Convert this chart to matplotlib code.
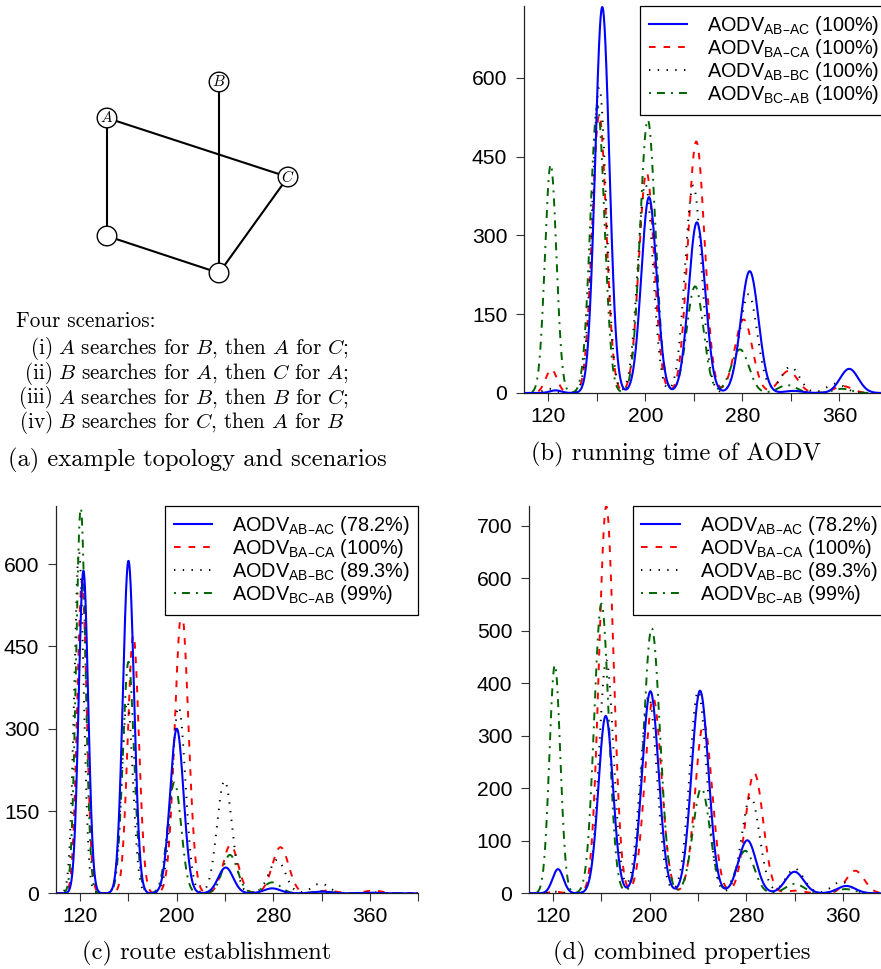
import numpy as np
import matplotlib
matplotlib.use('Agg')
import matplotlib.pyplot as plt
from matplotlib.patches import Circle

W, H = 881, 969

# ---- (a) topology ----
node_x = [107, 219, 288, 107, 219]
node_y = [118, 82, 177, 236, 273]
node_lbl = ['A', 'B', 'C', '', '']
edges = [(0, 3), (0, 2), (1, 4), (3, 4), (4, 2)]
scen_tags = ['(i)', '(ii)', '(iii)', '(iv)']
scen_text = [r'$A$ searches for $B$, then $A$ for $C$;',
             r'$B$ searches for $A$, then $C$ for $A$;',
             r'$A$ searches for $B$, then $B$ for $C$;',
             r'$B$ searches for $C$, then $A$ for $B$']

# ---- peak positions / heights ----
# order of series: AB-AC, BA-CA, AB-BC, BC-AB
b_x = [[126, 164.5, 203, 242.5, 286, 322, 368],
       [122.5, 162, 201, 242, 281, 318, 363],
       [121, 162, 200, 239.5, 285, 319.5, 357],
       [122, 160.5, 202, 241, 278, 317, 362]]
b_h = [[5, 735, 373, 325, 232, 4, 46],
       [45, 530, 420, 479, 140, 42, 13],
       [8, 582, 398, 395, 188, 50, 18],
       [435, 547, 520, 203, 83, 15, 8]]
b_w = [4.7, 5.8, 6.3, 6.8, 7.3, 7.5, 7.5]

c_x = [[122.7, 160, 200, 240.5, 279, 320, 360],
       [121.5, 164, 204, 244.5, 285.8, 325, 362.6],
       [119, 159, 201.5, 239.5, 283, 319, 360],
       [120.5, 160, 198, 244, 279, 320, 360]]
c_h = [[588, 606, 300, 47, 9, 3, 1],
       [570, 470, 513, 88, 84, 5, 5],
       [623, 350, 340, 205, 61, 18, 2],
       [702, 422, 202, 70, 20, 4, 1]]
c_w = [3.9, 4.6, 5.6, 6.2, 6.8, 7.0, 7.0]

d_x = [[124, 163.5, 200.5, 241.6, 280.7, 319.8, 362.7],
       [122, 164, 202.8, 244.6, 286.5, 320, 370],
       [122, 164, 199, 240, 283.5, 320, 358.5],
       [121.4, 160, 201.6, 242.7, 279, 320, 362]]
d_h = [[46, 338, 385, 386, 101, 41, 14],
       [3, 738, 372, 324, 229, 5, 43],
       [3, 444, 375, 385, 184, 47, 22],
       [435, 552, 505, 200, 81, 18, 8]]
d_w = [4.5, 6.0, 6.8, 7.0, 7.3, 7.5, 7.5]

ylim_top = [737, 706, 738]
yticks_bc = [0, 150, 300, 450, 600]
yticks_d = [0, 100, 200, 300, 400, 500, 600, 700]
xticks = [120, 160, 200, 240, 280, 320, 360, 400]
xlabels = ['120', '', '200', '', '280', '', '360', '']

subs = ['AB\u2013AC', 'BA\u2013CA', 'AB\u2013BC', 'BC\u2013AB']
pct_b = ['100%', '100%', '100%', '100%']
pct_cd = ['78.2%', '100%', '89.3%', '99%']
captions = ['(b) running time of AODV', '(c) route establishment',
            '(d) combined properties']

plt.rcParams['font.family'] = ['Liberation Sans', 'DejaVu Sans']

styles = [dict(color='#0000ff', ls='-', lw=1.5, zorder=4),
          dict(color='#ff0000', dashes=(3.4, 4.1), lw=1.4, zorder=3),
          dict(color='black', dashes=(0.7, 3.8), lw=1.4, zorder=3),
          dict(color='#006400', dashes=(1.0, 3.1, 4.1, 3.1), lw=1.4, zorder=3)]

fig = plt.figure(figsize=(W / 100, H / 100), dpi=100)


def px_axes(l, t, r, b):
    return fig.add_axes([l / W, 1 - b / H, (r - l) / W, (b - t) / H])


def curve(xs, cs, hs, ws):
    y = np.zeros_like(xs)
    for c, h, w in zip(cs, hs, ws):
        y += h * np.exp(-0.5 * ((xs - c) / w) ** 2)
    return y


cap_kw = dict(fontfamily='cmr10', math_fontfamily='cm')

# ---- panel (a) ----
axa = px_axes(0, 0, 440, 480)
axa.set_xlim(0, 440)
axa.set_ylim(480, 0)
axa.axis('off')
for i, j in edges:
    axa.plot([node_x[i], node_x[j]], [node_y[i], node_y[j]], color='black',
             lw=1.5, zorder=1, solid_capstyle='butt')
for x, y, s in zip(node_x, node_y, node_lbl):
    axa.add_patch(Circle((x, y), 9.8, facecolor='white', edgecolor='black',
                         lw=1.0, zorder=2))
    if s:
        axa.text(x, y, '$' + s + '$', ha='center', va='center', fontsize=11,
                 math_fontfamily='cm', zorder=3)
axa.text(16, 321, 'Four scenarios:', ha='left', va='center', fontsize=15.2, **cap_kw)
for k, (tag, txt) in enumerate(zip(scen_tags, scen_text)):
    yy = 348.5 + k * 24.7
    axa.text(53, yy, tag, ha='right', va='center', fontsize=15.2, **cap_kw)
    axa.text(58, yy, txt, ha='left', va='center', fontsize=15.2, **cap_kw)
axa.text(8, 460, '(a) example topology and scenarios', ha='left', va='center',
         fontsize=17.7, **cap_kw)

# ---- curve panels ----
xs = np.linspace(100, 400, 1501)
# (axes box in px, peaks..., legend right edge in axes fraction, caption centre)
panels = [((524, 6, 888, 393), b_x, b_h, b_w, yticks_bc, pct_b, 1.0, (676, 454)),
          ((56, 506, 418.4, 893.3), c_x, c_h, c_w, yticks_bc, pct_cd, 1.0, (207, 953)),
          ((529, 506, 891.4, 893.3), d_x, d_h, d_w, yticks_d, pct_cd, 0.985, (682, 953))]

for n, (box, px, ph, pw, yt, pct, lx, cap) in enumerate(panels):
    ax = px_axes(*box)
    for k in range(4):
        lab = 'AODV$_{\\mathregular{' + subs[k] + '}}$ (' + pct[k] + ')'
        ax.plot(xs, curve(xs, px[k], ph[k], pw), label=lab, **styles[k])
    ax.set_xlim(100, 400)
    ax.set_ylim(0, ylim_top[n])
    ax.set_xticks(xticks)
    ax.set_xticklabels(xlabels)
    ax.set_yticks(yt)
    ax.set_yticklabels([str(v) for v in yt])
    for s in ['top', 'right']:
        ax.spines[s].set_visible(False)
    for s in ['left', 'bottom']:
        ax.spines[s].set_linewidth(0.9)
        ax.spines[s].set_color('#222222')
    ax.tick_params(axis='both', labelsize=15.2, length=6, width=0.8,
                   color='#333333')
    ax.tick_params(axis='x', pad=4.0)
    ax.tick_params(axis='y', pad=6.0)
    leg = ax.legend(loc='upper right', bbox_to_anchor=(lx, 1), borderaxespad=0,
                    fontsize=14.3, frameon=True, fancybox=False,
                    edgecolor='black', framealpha=1, handlelength=1.95,
                    handletextpad=1.0, borderpad=0.42, labelspacing=0.0)
    leg.get_frame().set_linewidth(0.9)
    fig.text(cap[0] / W, 1 - cap[1] / H, captions[n], ha='center', va='center',
             fontsize=17.7, **cap_kw)

fig.savefig('out.png', dpi=100)
